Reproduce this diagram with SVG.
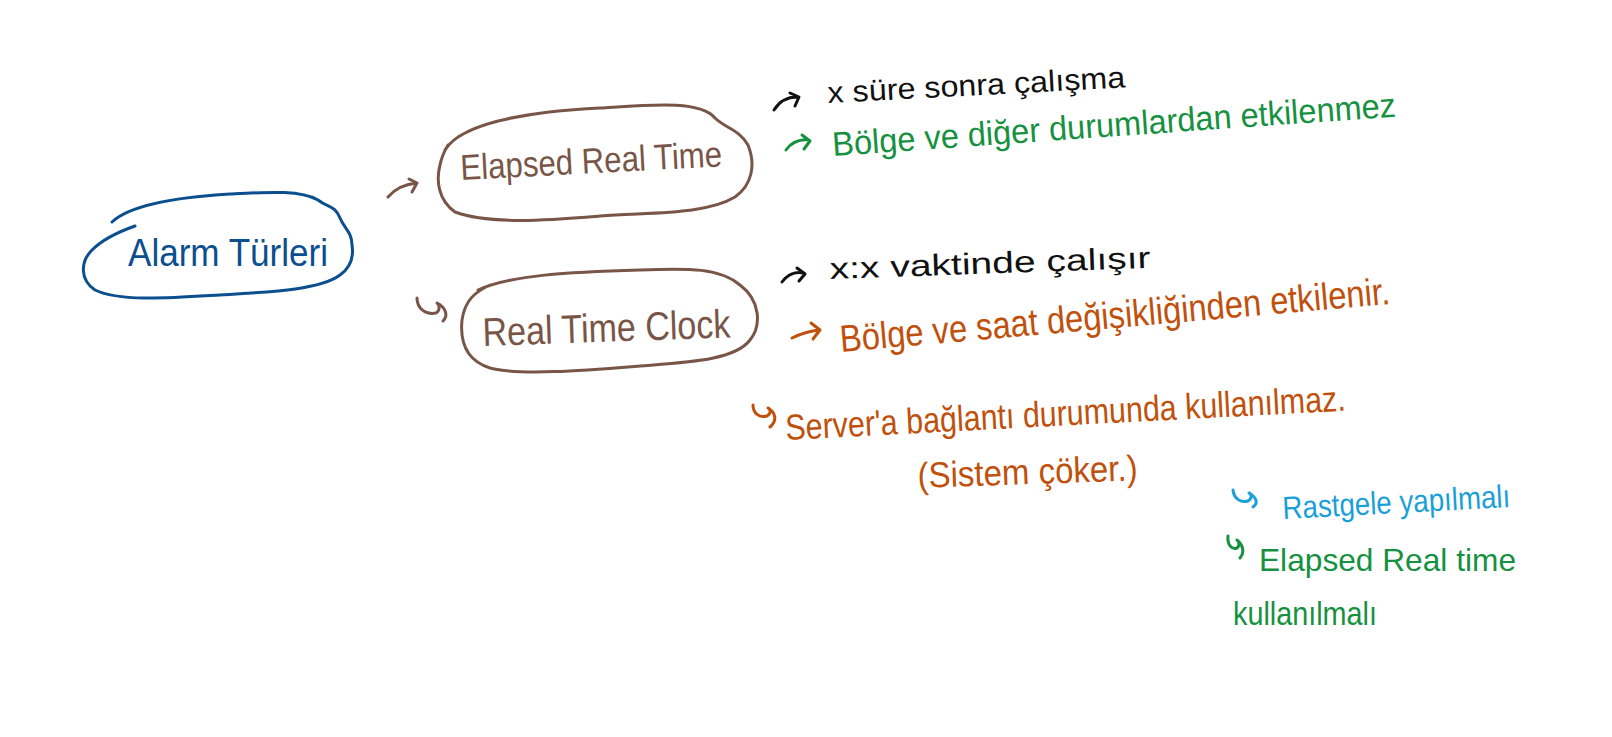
<svg xmlns="http://www.w3.org/2000/svg" width="1612" height="737" viewBox="0 0 1612 737">
<style>
.ln{fill:none;stroke-width:3;stroke-linecap:round;stroke-linejoin:round}
.t{font-family:"Liberation Sans","DejaVu Sans",sans-serif}
.brown{stroke:#795548}.blue{stroke:#0b4f8f}.green{stroke:#16913f}.orange{stroke:#c0500c}.cyan{stroke:#1a9fd9}.black{stroke:#111}
</style>
<rect width="1612" height="737" fill="#fff"/>
<g id="alarm">
<path class="ln blue" d="M112 222 C130 205,180 197,230 194 C270 192,300 190,318 200 C328 208,335 205,340 218 C344 228,352 232,352 245 C354 258,350 268,340 275 C320 290,270 292,220 295 C170 298,120 302,95 290 C80 280,80 262,92 250 C102 240,118 232,135 226"/>
<text class="t" x="128" y="266" font-size="38" fill="#0b4f8f" textLength="200" lengthAdjust="spacingAndGlyphs">Alarm Türleri</text>
</g>
<g id="elapsed">
<path class="ln brown" d="M445 150 C460 125,520 112,600 108 C650 105,700 100,715 118 C725 128,740 130,748 145 C756 165,752 185,735 197 C705 215,650 212,600 216 C550 220,490 225,455 212 C438 200,436 180,440 165 C442 155,445 150,448 145"/>
<text class="t" x="461" y="180" font-size="36" fill="#795548" textLength="262" lengthAdjust="spacingAndGlyphs" transform="rotate(-3 461 180)">Elapsed Real Time</text>
</g>
<g id="rtc">
<path class="ln brown" d="M478 290 C510 275,570 272,640 270 C690 268,720 268,740 285 C760 300,762 325,750 340 C735 360,690 362,640 366 C590 370,520 376,490 368 C465 360,460 340,462 320 C465 300,475 292,490 285"/>
<text class="t" x="483" y="346" font-size="40" fill="#795548" textLength="248" lengthAdjust="spacingAndGlyphs" transform="rotate(-2 483 346)">Real Time Clock</text>
</g>
<g id="connectors">
<path class="ln brown" d="M388 197 C395 189,405 184,417 183 M409 179 L417 183 L412 192"/>
<path class="ln brown" d="M417 298 C417 309,426 315,436 313 C440 311,440 305,437 303 C445 307,449 315,443 321"/>
<path class="ln black" d="M774 110 C779 102,787 97,797 97 M790 93 L799 97 L795 106"/>
<path class="ln green" d="M786 150 C791 143,799 139,809 140 M802 135 L810 141 L804 149"/>
<path class="ln black" d="M782 282 C787 275,795 271,804 273 M797 268 L805 274 L799 281"/>
<path class="ln orange" d="M792 338 C800 334,810 331,820 330 M811 323 L820 330 L813 339"/>
<path class="ln orange" d="M753 405 C753 414,760 418,767 416 C771 414,771 409,768 408 C775 412,778 420,770 427"/>
<path class="ln cyan" d="M1233 490 C1234 499,1241 503,1248 501 C1252 499,1252 494,1249 493 C1256 497,1259 503,1253 507"/>
<path class="ln green" d="M1228 536 C1227 545,1232 550,1237 548 C1240 546,1239 541,1237 540 C1243 545,1245 552,1240 558"/>
</g>
<g id="notes">
<text class="t" x="828" y="103" font-size="30" fill="#111" textLength="298" lengthAdjust="spacingAndGlyphs" transform="rotate(-3 828 103)">x süre sonra çalışma</text>
<text class="t" x="833" y="156" font-size="34" fill="#16913f" textLength="565" lengthAdjust="spacingAndGlyphs" transform="rotate(-4 833 156)">Bölge ve diğer durumlardan etkilenmez</text>
<text class="t" x="830" y="279" font-size="30" fill="#111" textLength="321" lengthAdjust="spacingAndGlyphs" transform="rotate(-2 830 279)">x:x vaktinde çalışır</text>
<text class="t" x="841" y="352" font-size="38" fill="#c0500c" textLength="552" lengthAdjust="spacingAndGlyphs" transform="rotate(-5 841 352)">Bölge ve saat değişikliğinden etkilenir.</text>
<text class="t" x="786" y="440" font-size="36" fill="#c0500c" textLength="561" lengthAdjust="spacingAndGlyphs" transform="rotate(-3 786 440)">Server'a bağlantı durumunda kullanılmaz.</text>
<text class="t" x="918" y="488" font-size="36" fill="#c0500c" textLength="220" lengthAdjust="spacingAndGlyphs" transform="rotate(-2 918 488)">(Sistem çöker.)</text>
<text class="t" x="1283" y="519" font-size="32" fill="#1a9fd9" textLength="228" lengthAdjust="spacingAndGlyphs" transform="rotate(-3 1283 519)">Rastgele yapılmalı</text>
<text class="t" x="1259" y="571" font-size="32" fill="#16913f" textLength="257" lengthAdjust="spacingAndGlyphs">Elapsed Real time</text>
<text class="t" x="1233" y="625" font-size="34" fill="#16913f" textLength="144" lengthAdjust="spacingAndGlyphs">kullanılmalı</text>
</g>
</svg>
